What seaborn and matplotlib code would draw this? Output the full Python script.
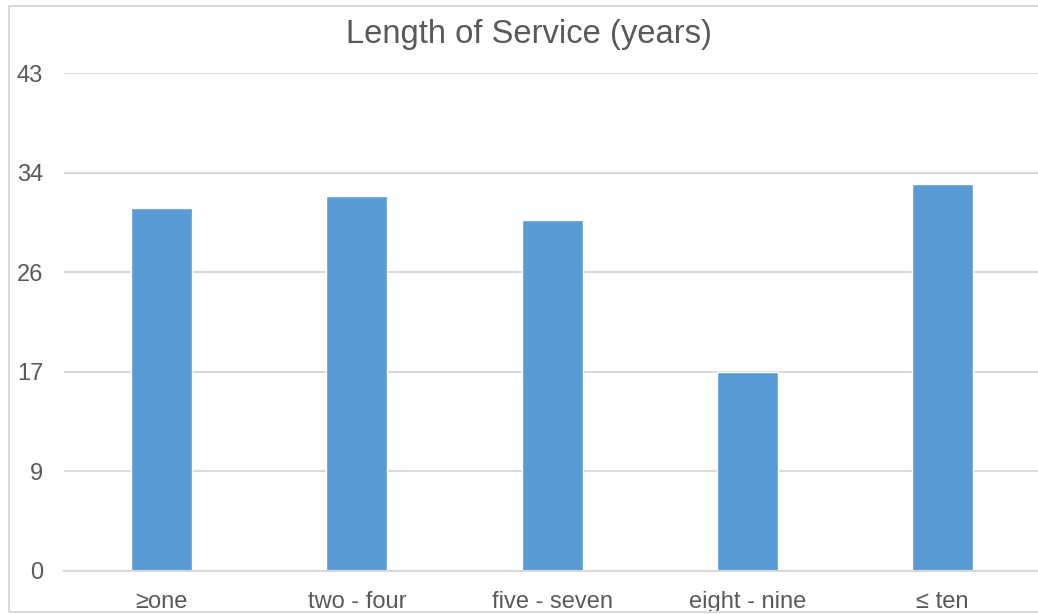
import matplotlib
matplotlib.use("Agg")
import matplotlib.pyplot as plt
from matplotlib.patches import Rectangle
import seaborn as sns
import pandas as pd

# Data
categories = ["\u2265one", "two - four", "five - seven", "eight - nine", "\u2264 ten"]
counts = [31, 32, 30, 17, 33]
y_ticks = [0, 8.5, 17, 25.5, 34, 42.5]
y_tick_labels = ["0", "9", "17", "26", "34", "43"]
title = "Length of Service (years)"

df = pd.DataFrame({"category": categories, "count": counts})

sns.set_theme(style="white")
plt.rcParams["font.family"] = ["Liberation Sans", "DejaVu Sans"]

text_color = "#595959"
grid_color = "#D9D9D9"
bar_color = "#5B9BD5"

W, H = 1038, 614
fig = plt.figure(figsize=(W / 100, H / 100), dpi=100)
fig.patch.set_facecolor("white")

# Plot area in pixel coordinates
left, right = 64, 1040
top, bottom = 73.3, 570.5
ax = fig.add_axes([left / W, (H - bottom) / H, (right - left) / W, (bottom - top) / H])

sns.barplot(data=df, x="category", y="count", color=bar_color, width=0.3125,
            saturation=1, ax=ax, zorder=3)

ax.set_xlim(-0.5, len(categories) - 0.5)
ax.set_ylim(0, 42.5)
ax.set_yticks(y_ticks)
ax.set_yticklabels(y_tick_labels)
ax.yaxis.grid(True, color=grid_color, linewidth=1.5, zorder=0)
ax.set_axisbelow(True)
for s in ["top", "right", "left"]:
    ax.spines[s].set_visible(False)
ax.spines["bottom"].set_color(grid_color)
ax.spines["bottom"].set_linewidth(1.5)
ax.spines["bottom"].set_zorder(4)

ax.tick_params(axis="y", length=0, pad=15, labelsize=17, labelcolor=text_color)
ax.tick_params(axis="x", length=0, pad=15, labelsize=17, labelcolor=text_color)
ax.set_xlabel("")
ax.set_ylabel("")

fig.text(529 / W, 1 - 34 / H, title, ha="center", va="center",
         fontsize=23.6, color=text_color)

# Chart border
fig.patches.append(Rectangle((8.5 / W, (H - 612) / H), (W + 10) / W, (612 - 6) / H,
                             transform=fig.transFigure, fill=False,
                             edgecolor=grid_color, linewidth=1.5))

fig.savefig("out.png", dpi=100, facecolor="white")
